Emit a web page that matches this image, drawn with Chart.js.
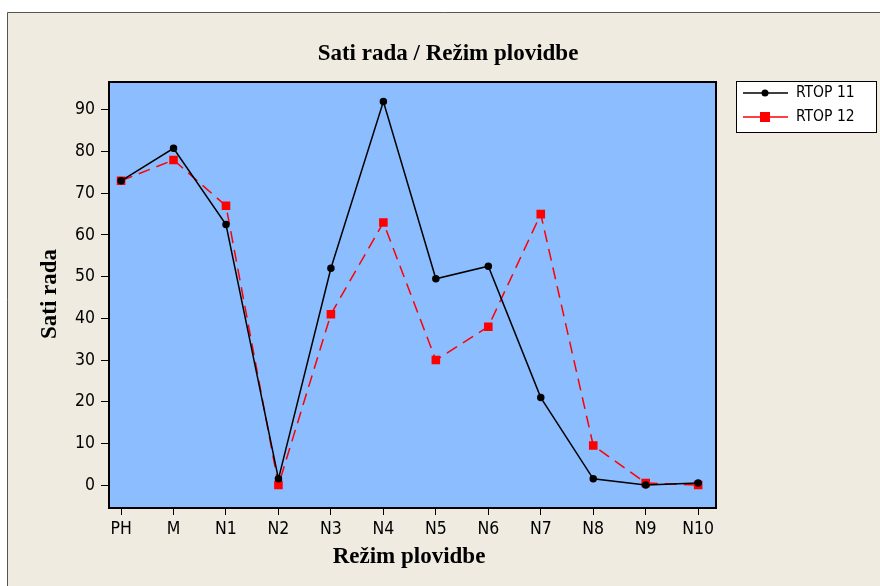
<!DOCTYPE html>
<html>
<head>
<meta charset="utf-8">
<script src="https://cdn.jsdelivr.net/npm/chart.js@4"></script>
<style>
  html, body { margin: 0; padding: 0; background: #ffffff; }
  #wrap { width: 880px; height: 586px; }
</style>
</head>
<body>
<div id="wrap"><canvas id="lineChart" width="880" height="586"></canvas></div>
<script>
// data
const categories = ["PH", "M", "N1", "N2", "N3", "N4", "N5", "N6", "N7", "N8", "N9", "N10"];
const rtop11 = [73, 80.8, 62.5, 1.5, 52, 92, 49.5, 52.5, 21, 1.5, 0, 0.5];
const rtop12 = [73, 78, 67, 0, 41, 63, 30, 38, 65, 9.5, 0.5, 0];
const yTicks = [0, 10, 20, 30, 40, 50, 60, 70, 80, 90];

const LineChart = document.getElementById("lineChart");

const tickFont = { family: "'DejaVu Sans Condensed', 'DejaVu Sans', sans-serif", size: 17.5 };

function toPoints(values) {
  return values.map((v, i) => ({ x: i, y: v }));
}

// background, frame, titles and legend box
const decorPlugin = {
  id: "decor",
  beforeDraw(chart) {
    const ctx = chart.ctx;
    const a = chart.chartArea;
    ctx.save();
    ctx.fillStyle = "#ffffff";
    ctx.fillRect(0, 0, chart.width, chart.height);
    ctx.fillStyle = "#efebe1";
    ctx.fillRect(7, 12, chart.width - 7, chart.height - 12);
    ctx.strokeStyle = "#555555";
    ctx.lineWidth = 1;
    ctx.beginPath();
    ctx.moveTo(7.5, chart.height);
    ctx.lineTo(7.5, 12.5);
    ctx.lineTo(chart.width, 12.5);
    ctx.stroke();
    ctx.fillStyle = "#8bbdff";
    ctx.fillRect(a.left, a.top, a.right - a.left, a.bottom - a.top);
    ctx.restore();
  },
  afterDraw(chart) {
    const ctx = chart.ctx;
    const a = chart.chartArea;
    ctx.save();
    ctx.strokeStyle = "#000000";
    ctx.lineWidth = 2;
    ctx.strokeRect(a.left, a.top, a.right - a.left, a.bottom - a.top);

    ctx.fillStyle = "#000000";
    ctx.textAlign = "center";
    ctx.textBaseline = "middle";
    ctx.font = "bold 23px 'Liberation Serif', serif";
    ctx.fillText("Sati rada / Režim plovidbe", 448, 54);
    ctx.fillText("Režim plovidbe", 409, 557);
    ctx.translate(50, 294);
    ctx.rotate(-Math.PI / 2);
    ctx.fillText("Sati rada", 0, 0);
    ctx.restore();

    // legend
    ctx.save();
    ctx.fillStyle = "#ffffff";
    ctx.fillRect(736, 81, 140, 51);
    ctx.strokeStyle = "#000000";
    ctx.lineWidth = 1;
    ctx.strokeRect(736.5, 81.5, 140, 51);
    ctx.font = "15.5px 'DejaVu Sans Condensed', 'DejaVu Sans', sans-serif";
    ctx.textAlign = "left";
    ctx.textBaseline = "middle";
    chart.data.datasets.forEach((ds, i) => {
      const y = 93 + i * 24;
      ctx.strokeStyle = ds.borderColor;
      ctx.lineWidth = 1.5;
      ctx.setLineDash([]);
      ctx.beginPath();
      ctx.moveTo(743, y);
      ctx.lineTo(788, y);
      ctx.stroke();
      ctx.fillStyle = ds.pointBackgroundColor;
      if (ds.pointStyle === "rect") {
        ctx.fillRect(760, y - 5, 10, 10);
      } else {
        ctx.beginPath();
        ctx.arc(765, y, 3.5, 0, Math.PI * 2);
        ctx.fill();
      }
      ctx.fillStyle = "#000000";
      ctx.fillText(ds.label, 796, y);
    });
    ctx.restore();
  },
};

new Chart(LineChart, {
  type: "line",
  data: {
    datasets: [
      {
        label: "RTOP 11",
        data: toPoints(rtop11),
        borderColor: "#000000",
        backgroundColor: "#000000",
        pointBackgroundColor: "#000000",
        pointBorderColor: "#000000",
        borderWidth: 1.5,
        pointStyle: "circle",
        pointRadius: 3,
        tension: 0,
      },
      {
        label: "RTOP 12",
        data: toPoints(rtop12),
        borderColor: "#ff0000",
        backgroundColor: "#ff0000",
        pointBackgroundColor: "#ff0000",
        pointBorderColor: "#ff0000",
        borderWidth: 1.5,
        borderDash: [12, 7],
        pointStyle: "rect",
        pointRadius: 5,
        tension: 0,
      },
    ],
  },
  options: {
    responsive: false,
    animation: false,
    layout: { padding: { top: 82, right: 164, left: 0, bottom: 0 } },
    plugins: {
      legend: { display: false },
      title: { display: false },
      tooltip: { enabled: false },
    },
    scales: {
      x: {
        type: "linear",
        min: -0.23,
        max: 11.34,
        afterFit(scale) { scale.height = 78; },
        afterBuildTicks(scale) {
          scale.ticks = categories.map((c, i) => ({ value: i }));
        },
        ticks: {
          color: "#000000",
          font: tickFont,
          padding: 4,
          maxRotation: 0,
          autoSkip: false,
          callback: (value) => categories[value],
        },
        grid: { drawOnChartArea: false, tickLength: 7, color: "#000000" },
        border: { display: false },
      },
      y: {
        min: -5.5,
        max: 96.7,
        afterFit(scale) { scale.width = 109; },
        afterBuildTicks(scale) {
          scale.ticks = yTicks.map((v) => ({ value: v }));
        },
        ticks: { color: "#000000", font: tickFont, padding: 6 },
        grid: { drawOnChartArea: false, tickLength: 8, color: "#000000" },
        border: { display: false },
      },
    },
  },
  plugins: [decorPlugin],
});
</script>
</body>
</html>
